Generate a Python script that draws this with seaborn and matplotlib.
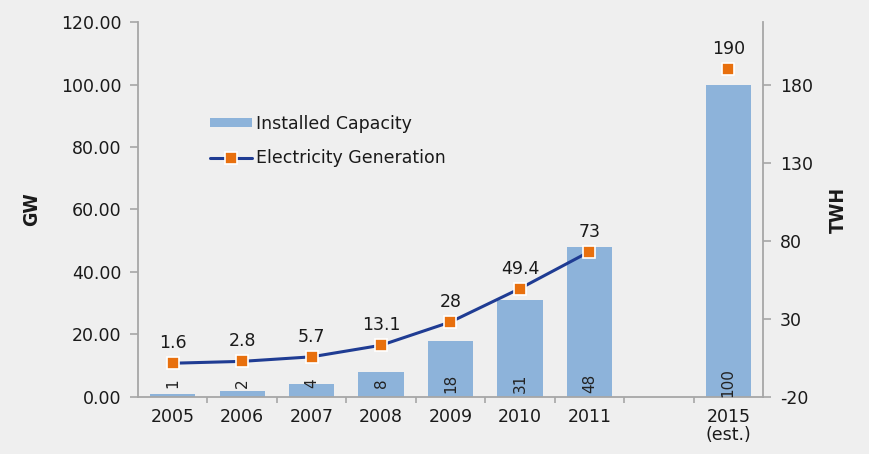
import matplotlib
matplotlib.use("Agg")
import matplotlib.pyplot as plt
from matplotlib.ticker import FixedLocator, FormatStrFormatter
from matplotlib.lines import Line2D
from matplotlib.patches import Patch
import pandas as pd
import seaborn as sns

# Categories (one empty slot separates the actual years from the estimate)
categories = ["2005", "2006", "2007", "2008", "2009", "2010", "2011", " ", "2015\n(est.)"]
capacity_years = ["2005", "2006", "2007", "2008", "2009", "2010", "2011", "2015\n(est.)"]
capacity_gw = [1, 2, 4, 8, 18, 31, 48, 100]
generation_years = ["2005", "2006", "2007", "2008", "2009", "2010", "2011"]
generation_twh = [1.6, 2.8, 5.7, 13.1, 28, 49.4, 73]
estimate_year = ["2015\n(est.)"]
estimate_twh = [190]
gw_ticks = [0, 20, 40, 60, 80, 100, 120]
twh_ticks = [-20, 30, 80, 130, 180]

BG = "#efefef"
BAR = "#8db3da"
LINE = "#1f3c93"
MARK = "#e8700e"
SPINE = "#a6a6a6"
TXT = "#1a1a1a"

sns.set_theme(style="white")
plt.rcParams["font.family"] = ["DejaVu Sans"]
plt.rcParams["axes.unicode_minus"] = False

fig = plt.figure(figsize=(8.7, 4.54), dpi=100, facecolor=BG)
ax = fig.add_axes([0.1586, 0.1256, 0.877 - 0.1586, 0.9515 - 0.1256])
ax.set_facecolor(BG)

cap_df = pd.DataFrame({"year": capacity_years, "gw": capacity_gw})
sns.barplot(data=cap_df, x="year", y="gw", order=categories, color=BAR,
            saturation=1, width=0.65, linewidth=0, edgecolor="none", ax=ax)
ax.set_xlim(-0.5, len(categories) - 0.5)
ax.set_ylim(0, 120)
ax.yaxis.set_major_locator(FixedLocator(gw_ticks))
ax.yaxis.set_major_formatter(FormatStrFormatter("%.2f"))

# Value labels sitting at the base of each bar
for year, val in zip(capacity_years, capacity_gw):
    xpos = categories.index(year)
    ax.annotate(f"{val}", (xpos, 0), xytext=(0, 14), textcoords="offset pixels",
                ha="center", va="center", rotation=90, fontsize=11, color="#222222")

# Secondary axis for electricity generation
ax2 = ax.twinx()
ax2.set_ylim(-20, 220)
ax2.yaxis.set_major_locator(FixedLocator(twh_ticks))

gen_df = pd.DataFrame({"pos": [categories.index(y) for y in generation_years],
                       "twh": generation_twh})
sns.lineplot(data=gen_df, x="pos", y="twh", color=LINE, linewidth=2.2,
             marker="s", markersize=9, markerfacecolor=MARK,
             markeredgecolor="white", markeredgewidth=1.2, ax=ax2)
est_df = pd.DataFrame({"pos": [categories.index(y) for y in estimate_year],
                       "twh": estimate_twh})
sns.scatterplot(data=est_df, x="pos", y="twh", marker="s", s=80, color=MARK,
                edgecolor="white", linewidth=1.2, ax=ax2, zorder=5)

for pos, val in list(zip(gen_df["pos"], generation_twh)) + list(zip(est_df["pos"], estimate_twh)):
    ax2.annotate(f"{val:g}", (pos, val), xytext=(0, 20), textcoords="offset pixels",
                 ha="center", va="center", fontsize=12.5, color=TXT)

ax2.set_xlim(-0.5, len(categories) - 0.5)

# Axes styling
for a in (ax, ax2):
    a.spines["top"].set_visible(False)
    for s in ("left", "right", "bottom"):
        a.spines[s].set_color(SPINE)
        a.spines[s].set_linewidth(1.3)
ax.spines["right"].set_visible(False)
ax2.spines["left"].set_visible(False)
ax2.spines["bottom"].set_visible(False)

ax.set_xticks(range(len(categories)))
ax.set_xticklabels(categories, fontsize=12.5, color=TXT, linespacing=1.0)
ax.set_xticks([i - 0.5 for i in range(1, len(categories))], minor=True)
ax.tick_params(axis="x", which="major", length=0, pad=8)
ax.tick_params(axis="x", which="minor", length=4, width=1.2, color=SPINE, direction="out", bottom=True)
ax.tick_params(axis="y", length=6, width=1.2, color=SPINE, labelsize=12.5, labelcolor=TXT, left=True, pad=6)
ax2.tick_params(axis="y", length=6, width=1.2, color=SPINE, labelsize=12.5, labelcolor=TXT, right=True, pad=6)

ax.set_xlabel("")
ax.set_ylabel("GW", fontstretch="condensed", fontweight="bold",
              fontsize=14, color=TXT, labelpad=14)
ax2.set_ylabel("TWH", fontstretch="condensed", fontweight="bold",
               fontsize=14, color=TXT, rotation=90, labelpad=12)
ax2.set_xlabel("")

handles = [Patch(facecolor=BAR, edgecolor="none"),
           Line2D([0], [0], color=LINE, linewidth=2.2, marker="s", markersize=9,
                  markerfacecolor=MARK, markeredgecolor="white", markeredgewidth=1.2)]
ax.legend(handles, ["Installed Capacity", "Electricity Generation"], loc="upper left",
          bbox_to_anchor=(0.09, 0.795), frameon=False, fontsize=12.5, labelspacing=0.95,
          handlelength=2.4, handleheight=0.45, handletextpad=0.25, labelcolor=TXT)

fig.savefig("out.png", dpi=100, facecolor=BG)
